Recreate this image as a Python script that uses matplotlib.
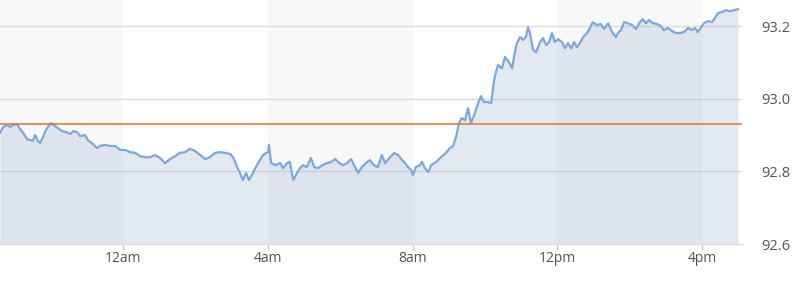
import numpy as np
import matplotlib.pyplot as plt

# hours relative to midnight, price
hours = [-3.40, -3.31, -3.20, -3.12, -3.04, -2.93, -2.85, -2.76, -2.65, -2.57,
         -2.49, -2.43, -2.35, -2.29, -2.21, -2.13, -2.04, -1.99, -1.88, -1.80,
         -1.69, -1.57, -1.46, -1.38, -1.27, -1.19, -1.05, -0.97, -0.83, -0.72,
         -0.64, -0.50, -0.36, -0.22, -0.08, 0.06, 0.19, 0.33, 0.47, 0.61,
         0.75, 0.88, 1.02, 1.16, 1.30, 1.44, 1.57, 1.71, 1.85, 1.99,
         2.13, 2.27, 2.40, 2.54, 2.68, 2.82, 2.96, 3.04, 3.15, 3.23,
         3.31, 3.40, 3.48, 3.59, 3.67, 3.78, 3.87, 3.95, 4.01, 4.03,
         4.09, 4.20, 4.34, 4.42, 4.53, 4.61, 4.70, 4.81, 4.89, 4.97,
         5.08, 5.19, 5.28, 5.39, 5.50, 5.64, 5.75, 5.86, 5.97, 6.08,
         6.19, 6.30, 6.41, 6.49, 6.60, 6.71, 6.82, 6.93, 7.04, 7.15,
         7.24, 7.38, 7.49, 7.60, 7.71, 7.79, 7.87, 7.96, 8.01, 8.09,
         8.20, 8.26, 8.34, 8.43, 8.51, 8.65, 8.78, 8.92, 9.03, 9.12,
         9.20, 9.28, 9.36, 9.45, 9.53, 9.61, 9.70, 9.81, 9.89, 9.97,
         10.08, 10.17, 10.25, 10.30, 10.36, 10.47, 10.55, 10.66, 10.75, 10.80,
         10.88, 10.97, 11.05, 11.13, 11.19, 11.24, 11.33, 11.41, 11.52, 11.60,
         11.69, 11.77, 11.85, 11.93, 12.02, 12.13, 12.21, 12.29, 12.38, 12.46,
         12.54, 12.62, 12.71, 12.82, 12.90, 12.98, 13.09, 13.20, 13.29, 13.40,
         13.51, 13.62, 13.67, 13.76, 13.84, 13.95, 14.06, 14.17, 14.28, 14.36,
         14.45, 14.53, 14.64, 14.75, 14.86, 14.94, 15.06, 15.17, 15.28, 15.39,
         15.50, 15.61, 15.72, 15.80, 15.88, 15.97, 16.05, 16.16, 16.27, 16.35,
         16.44, 16.55, 16.66, 16.77, 16.88, 16.99]

price = [92.906, 92.922, 92.928, 92.922, 92.928, 92.930, 92.917, 92.906, 92.889, 92.886,
         92.884, 92.900, 92.884, 92.878, 92.895, 92.914, 92.928, 92.933, 92.925, 92.919,
         92.911, 92.908, 92.903, 92.911, 92.908, 92.897, 92.900, 92.886, 92.875, 92.864,
         92.870, 92.873, 92.870, 92.870, 92.859, 92.859, 92.853, 92.851, 92.842, 92.839,
         92.839, 92.845, 92.837, 92.823, 92.834, 92.842, 92.851, 92.853, 92.862, 92.856,
         92.845, 92.834, 92.839, 92.851, 92.853, 92.851, 92.848, 92.839, 92.812, 92.796,
         92.776, 92.796, 92.776, 92.796, 92.812, 92.831, 92.845, 92.851, 92.853, 92.873,
         92.823, 92.817, 92.823, 92.809, 92.823, 92.826, 92.776, 92.796, 92.809, 92.817,
         92.812, 92.837, 92.812, 92.809, 92.817, 92.823, 92.826, 92.834, 92.823, 92.817,
         92.823, 92.834, 92.812, 92.796, 92.812, 92.823, 92.831, 92.817, 92.812, 92.845,
         92.823, 92.839, 92.851, 92.845, 92.831, 92.823, 92.812, 92.804, 92.790, 92.812,
         92.817, 92.826, 92.809, 92.798, 92.817, 92.826, 92.839, 92.851, 92.864, 92.870,
         92.895, 92.933, 92.947, 92.941, 92.974, 92.933, 92.955, 92.988, 93.007, 92.991,
         92.991, 92.988, 93.051, 93.073, 93.093, 93.084, 93.115, 93.101, 93.084, 93.115,
         93.153, 93.170, 93.162, 93.170, 93.197, 93.181, 93.134, 93.128, 93.156, 93.167,
         93.148, 93.156, 93.181, 93.156, 93.164, 93.156, 93.139, 93.153, 93.139, 93.156,
         93.142, 93.153, 93.170, 93.181, 93.195, 93.211, 93.203, 93.206, 93.192, 93.208,
         93.184, 93.170, 93.181, 93.189, 93.211, 93.208, 93.203, 93.192, 93.211, 93.219,
         93.208, 93.217, 93.208, 93.206, 93.200, 93.189, 93.195, 93.186, 93.181, 93.181,
         93.184, 93.195, 93.189, 93.195, 93.184, 93.197, 93.208, 93.214, 93.211, 93.222,
         93.236, 93.239, 93.244, 93.241, 93.244, 93.247]

prev_close = 92.930
tick_hours = [0, 4, 8, 12, 16]
tick_labels = ["12am", "4am", "8am", "12pm", "4pm"]
y_ticks = [92.6, 92.8, 93.0, 93.2]
y_labels = ["92.6", "92.8", "93.0", "93.2"]
bands = [(-4, 0), (4, 8), (12, 16)]

plt.rcParams['font.family'] = ['Open Sans', 'DejaVu Sans']

fig = plt.figure(figsize=(8, 2.83), dpi=100)
ax = fig.add_axes([0, 39 / 283, 742 / 800, 244 / 283])

x0, x1 = -3.40, 17.10
y0, y1 = 92.6, 93.272

# alternating 4h bands
for a, b in bands:
    ax.axvspan(a, b, color="#f8f8f8", lw=0, zorder=0)

for v in y_ticks[1:]:
    ax.axhline(v, color="#dcdcdc", lw=1, zorder=1)

ax.fill_between(hours, price, y0, color="#a9bcd6", alpha=0.32, lw=0, zorder=2)
ax.plot(hours, price, color="#7ca8da", lw=1.6, zorder=3)
ax.axhline(prev_close, color="#e8702a", lw=1.1, zorder=4)

ax.set_xlim(x0, x1)
ax.set_ylim(y0, y1)

ax.set_xticks(tick_hours)
ax.set_xticklabels(tick_labels)
ax.yaxis.tick_right()
ax.set_yticks(y_ticks)
ax.set_yticklabels(y_labels)

ax.tick_params(axis="x", length=4, width=1, color="#cccccc", pad=1,
               labelsize=10, labelcolor="#555555")
ax.tick_params(axis="y", length=0, pad=14, labelsize=10.5, labelcolor="#555555")

for s in ["top", "left", "right"]:
    ax.spines[s].set_visible(False)
ax.spines["bottom"].set_color("#dcdcdc")
ax.spines["bottom"].set_linewidth(1)

fig.savefig("out.png", dpi=100)
